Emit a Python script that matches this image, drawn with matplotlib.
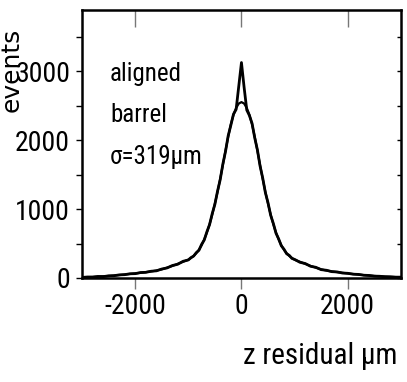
import numpy as np
import matplotlib
matplotlib.use("Agg")
import matplotlib.pyplot as plt
from matplotlib import lines as mlines

plt.rcParams["axes.unicode_minus"] = False

# z residual points (um): 100 um steps in the tails, 50 um in the core
z = np.concatenate([np.arange(-3000, -999, 100),
                    np.arange(-950, 951, 50),
                    np.arange(1000, 3001, 100)])

# measured residual histogram (events)
hist_tail_l = [8, 14, 12, 22, 20, 31, 33, 45, 48, 61,
               63, 79, 82, 98, 104, 130, 146, 181, 199, 242, 262]
hist_core = [296, 318, 368, 402, 488, 552, 672, 775, 935, 1070,
             1262, 1428, 1655, 1838, 2065, 2218, 2380, 2450, 2790,
             3130,
             2770, 2440, 2360, 2245, 2035, 1862, 1628, 1452, 1240, 1092,
             910, 792, 650, 568, 468, 418, 352, 328, 284]
hist_tail_r = [270, 228, 210, 170, 155, 121, 112, 92, 88, 72,
               68, 55, 52, 40, 37, 27, 25, 18, 17, 12, 12]
hist = hist_tail_l + hist_core + hist_tail_r

# fitted curve, one side (0..1000 step 50, then 1100..3000 step 100)
fit_half = [2555, 2535, 2470, 2370, 2230, 2050, 1850, 1640, 1440, 1250,
            1080, 920, 780, 660, 560, 475, 410, 360, 320, 290, 265,
            235, 205, 175, 150, 125, 108, 95, 85, 75, 66,
            58, 50, 42, 35, 29, 24, 20, 16, 13, 11]
fit = fit_half[:0:-1] + fit_half

labels = ["aligned", "barrel", "σ=319µm"]

narrow = ["Roboto Condensed", "DejaVu Sans"]

fig = plt.figure(figsize=(4.07, 3.82), dpi=100)
ax = fig.add_axes([0.2015, 0.2723, 0.7835, 0.7027])

ax.plot(z, hist, color="black", lw=2.0)
ax.plot(z, fit, color="black", lw=1.6)

ax.set_xlim(-3000, 3000)
ax.set_ylim(0, 3900)
ax.set_xticks([-2000, 0, 2000])
ax.set_yticks([0, 1000, 2000, 3000])
ax.set_yticks([500, 1500, 2500, 3500], minor=True)

for s in ax.spines.values():
    s.set_linewidth(1.8)

ax.tick_params(axis="x", which="both", top=True, width=1, color="#777777", pad=7)
ax.tick_params(axis="y", which="both", right=True, width=1, color="black", pad=5)
# left/bottom ticks outward, right/top ticks inward
for t in ax.yaxis.get_major_ticks() + ax.yaxis.get_minor_ticks():
    t.tick1line.set_marker(mlines.TICKLEFT)
    t.tick1line.set_markersize(4)
    t.tick2line.set_marker(mlines.TICKLEFT)
    t.tick2line.set_markersize(3)
for t in ax.xaxis.get_major_ticks():
    t.tick1line.set_marker(mlines.TICKDOWN)
    t.tick1line.set_markersize(8)
    t.tick2line.set_marker(mlines.TICKDOWN)
    t.tick2line.set_markersize(12)

for lab in ax.get_xticklabels() + ax.get_yticklabels():
    lab.set_family(narrow)
    lab.set_fontsize(20)

ax.set_xlabel("z residual µm", family=narrow, fontsize=21, ha="right")
ax.xaxis.set_label_coords(0.99, -0.24)
fig.text(19 / 407, 1 - 70 / 382, "events", rotation=90, rotation_mode="anchor",
         ha="center", va="baseline", family="DejaVu Sans", fontsize=18)

for lab, yf in zip(labels, [0.76, 0.607, 0.451]):
    ax.text(0.088, yf, lab, transform=ax.transAxes, family=narrow,
            fontsize=18, va="center", ha="left")

fig.savefig("out.png", dpi=100)
